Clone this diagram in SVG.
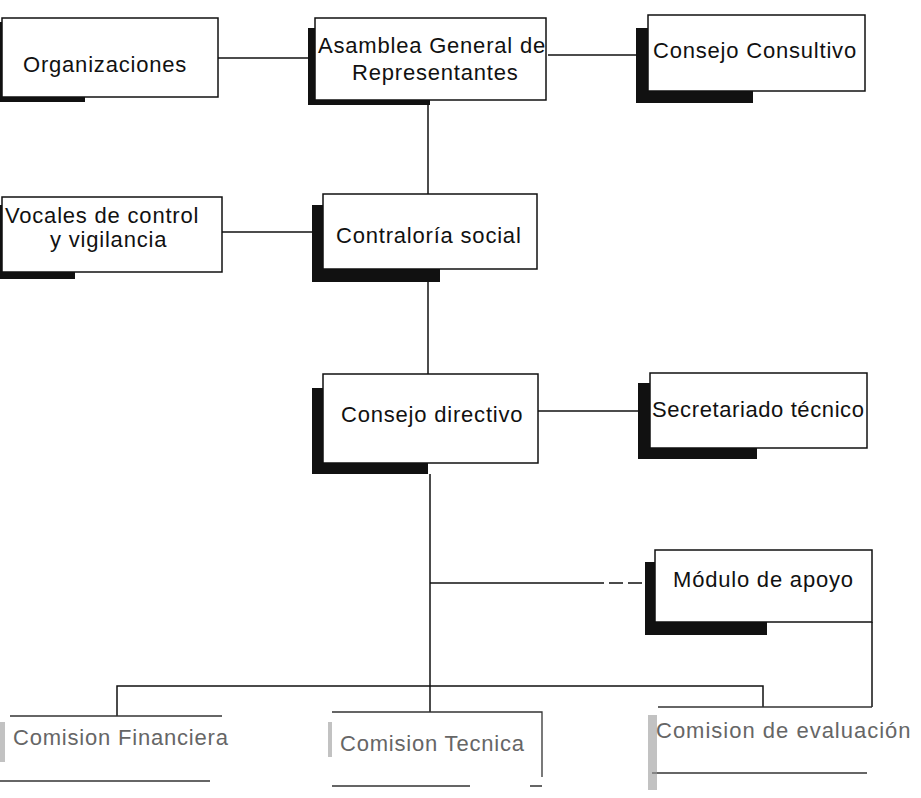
<svg xmlns="http://www.w3.org/2000/svg" width="921" height="798" viewBox="0 0 921 798">
<style>
  .box{fill:#fff;stroke:#111;stroke-width:1.5}
  .sh{fill:#111}
  .ln{stroke:#111;stroke-width:1.5;fill:none}
  .fln{stroke:#333;stroke-width:1.3;fill:none}
  .t{font-family:"Liberation Sans",Arial,sans-serif;font-size:22px;letter-spacing:0.8px;fill:#111}
  .ft{font-family:"Liberation Sans",Arial,sans-serif;font-size:22px;letter-spacing:0.8px;fill:#666}
  .spk{fill:#999}
</style>
<rect width="921" height="798" fill="#fff"/>
<g id="connectors">
  <path class="ln" d="M218,58 H308"/>
  <path class="ln" d="M548,55 H636"/>
  <path class="ln" d="M428,105 V194"/>
  <path class="ln" d="M222,232 H312"/>
  <path class="ln" d="M428,282 V374"/>
  <path class="ln" d="M538,411 H638"/>
  <path class="ln" d="M430,474 V712"/>
  <path class="ln" d="M430,583 H590"/>
  <path class="ln" d="M590,583 H645" stroke-dasharray="14 5"/>
  <path class="ln" d="M117,716 V686 H763 V707"/>
  <path class="ln" d="M872,622 V707"/>
</g>
<g id="organizaciones">
  <rect class="sh" x="0" y="22" width="3" height="80"/>
  <rect class="sh" x="0" y="97" width="85" height="5"/>
  <rect class="box" x="2" y="18" width="216" height="79"/>
  <text class="t" x="23" y="72">Organizaciones</text>
</g>
<g id="asamblea">
  <rect class="sh" x="308" y="28" width="8" height="77"/>
  <rect class="sh" x="308" y="97" width="122" height="8"/>
  <rect class="box" x="315" y="18" width="231" height="82"/>
  <text class="t" x="318" y="53">Asamblea General de</text>
  <text class="t" x="352" y="80">Representantes</text>
</g>
<g id="consejo-consultivo">
  <rect class="sh" x="636" y="28" width="12" height="75"/>
  <rect class="sh" x="636" y="91" width="117" height="12"/>
  <rect class="box" x="648" y="15" width="217" height="76"/>
  <text class="t" x="653" y="58">Consejo Consultivo</text>
</g>
<g id="vocales">
  <rect class="sh" x="0" y="205" width="3" height="74"/>
  <rect class="sh" x="0" y="272" width="75" height="7"/>
  <rect class="box" x="2" y="197" width="220" height="75"/>
  <text class="t" x="5" y="223">Vocales de control</text>
  <text class="t" x="50" y="247">y vigilancia</text>
</g>
<g id="contraloria">
  <rect class="sh" x="312" y="205" width="11" height="77"/>
  <rect class="sh" x="312" y="269" width="128" height="13"/>
  <rect class="box" x="323" y="194" width="214" height="75"/>
  <text class="t" x="336" y="243">Contraloría social</text>
</g>
<g id="consejo-directivo">
  <rect class="sh" x="312" y="388" width="11" height="86"/>
  <rect class="sh" x="312" y="463" width="116" height="11"/>
  <rect class="box" x="323" y="374" width="215" height="89"/>
  <text class="t" x="341" y="422">Consejo directivo</text>
</g>
<g id="secretariado">
  <rect class="sh" x="638" y="383" width="12" height="76"/>
  <rect class="sh" x="638" y="448" width="119" height="11"/>
  <rect class="box" x="650" y="373" width="217" height="75"/>
  <text class="t" x="652" y="417" style="letter-spacing:0.6px">Secretariado técnico</text>
</g>
<g id="modulo">
  <rect class="sh" x="645" y="562" width="10" height="73"/>
  <rect class="sh" x="645" y="622" width="122" height="13"/>
  <rect class="box" x="655" y="550" width="217" height="72"/>
  <text class="t" x="673" y="587">Módulo de apoyo</text>
</g>
<g id="comision-financiera">
  <path class="fln" d="M10,716 H222"/>
  <path class="fln" d="M0,781 H210"/>
  <rect class="spk" x="0" y="722" width="5" height="40" opacity="0.6"/>
  <text class="ft" x="13" y="745">Comision Financiera</text>
</g>
<g id="comision-tecnica">
  <path class="fln" d="M332,712 H542 V777"/>
  <path class="fln" d="M332,786 H470 M530,786 H542"/>
  <rect class="spk" x="328" y="722" width="4" height="35" opacity="0.6"/>
  <text class="ft" x="340" y="751">Comision Tecnica</text>
</g>
<g id="comision-evaluacion">
  <path class="fln" d="M658,707 H872"/>
  <path class="fln" d="M652,773 H867"/>
  <rect class="spk" x="648" y="715" width="9" height="75" opacity="0.6"/>
  <text class="ft" x="656" y="738" style="letter-spacing:1px">Comision de evaluación</text>
</g>
</svg>
